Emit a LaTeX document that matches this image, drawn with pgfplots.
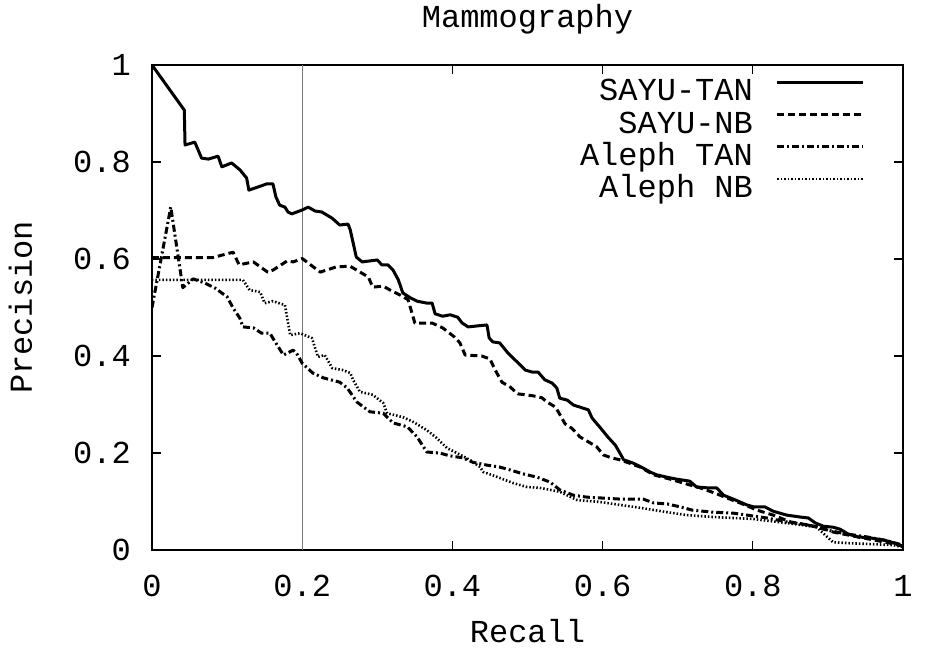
\documentclass[border=0pt]{standalone}
\usepackage{fontspec}
\setmainfont{Liberation Mono}
\usepackage{pgfplots}
\pgfplotsset{compat=1.18}
\definecolor{vline}{RGB}{120,120,120}
\begin{document}
\begin{tikzpicture}[font=\fontsize{32}{38}\selectfont]
\begin{axis}[
  scale only axis,
  width=751pt, height=485pt,
  xmin=0, xmax=1, ymin=0, ymax=1,
  xtick={0,0.2,0.4,0.6,0.8,1},
  ytick={0,0.2,0.4,0.6,0.8,1},
  /pgf/number format/assume math mode=true,
  tick align=inside,
  major tick length=9pt,
  tick style={line width=1.3pt, black},
  axis line style={line width=1.8pt},
  xticklabel style={anchor=north, inner sep=0pt, yshift=-25pt},
  yticklabel style={anchor=east, inner sep=0pt, xshift=-21pt},
  title={Mammography},
  every axis title shift=0pt,
  title style={at={(axis description cs:0.5,1.0763)}, anchor=base, inner sep=0pt},
  xlabel={Recall},
  xlabel style={at={(axis description cs:0.5,-0.19)}, anchor=base, inner sep=0pt},
  ylabel={Precision},
  ylabel style={at={(axis description cs:-0.1598,0.5)}, anchor=base, inner sep=0pt},
  legend plot pos=right,
  legend cell align=right,
  legend style={draw=none, fill=none, at={(axis description cs:0.9495,0.9726)}, anchor=north east,
    inner sep=0pt, column sep=23pt, row sep=1.9pt,
    nodes={inner sep=0pt, text height=22.4pt, text depth=8pt}},
  legend image code/.code={\draw[#1] (0pt,11.5pt) -- (86pt,11.5pt);},
  every axis plot/.append style={line join=round},
]
\addplot[vline, line width=1.4pt, forget plot] coordinates {(0.2,0) (0.2,1)};

\addplot[black, line width=3pt] coordinates {
(0,1.0) (0.043,0.907) (0.044,0.835) (0.057,0.841) (0.066,0.808) (0.075,0.806) (0.088,0.812) (0.093,0.790) (0.106,0.798) (0.117,0.784) (0.126,0.767) (0.129,0.742) (0.144,0.750) (0.153,0.755) (0.161,0.755) (0.165,0.728) (0.170,0.711) (0.177,0.707) (0.181,0.697) (0.186,0.693) (0.200,0.701) (0.208,0.707) (0.217,0.699) (0.226,0.697) (0.240,0.684) (0.250,0.670) (0.261,0.672) (0.264,0.660) (0.272,0.604) (0.280,0.594) (0.290,0.596) (0.300,0.598) (0.306,0.588) (0.314,0.588) (0.321,0.577) (0.328,0.557) (0.334,0.530) (0.344,0.520) (0.353,0.513) (0.366,0.509) (0.373,0.509) (0.377,0.487) (0.387,0.482) (0.397,0.485) (0.407,0.480) (0.413,0.468) (0.421,0.460) (0.433,0.462) (0.446,0.464) (0.449,0.437) (0.454,0.429) (0.463,0.427) (0.474,0.406) (0.486,0.388) (0.497,0.371) (0.506,0.367) (0.514,0.367) (0.523,0.351) (0.533,0.344) (0.539,0.334) (0.543,0.313) (0.553,0.309) (0.561,0.299) (0.573,0.293) (0.581,0.289) (0.586,0.272) (0.597,0.252) (0.607,0.233) (0.617,0.216) (0.623,0.200) (0.628,0.186) (0.641,0.179) (0.654,0.169) (0.663,0.161) (0.672,0.155) (0.686,0.150) (0.699,0.146) (0.716,0.142) (0.725,0.130) (0.741,0.128) (0.752,0.128) (0.761,0.113) (0.774,0.105) (0.792,0.093) (0.801,0.089) (0.816,0.089) (0.827,0.080) (0.845,0.072) (0.863,0.068) (0.874,0.066) (0.883,0.056) (0.894,0.049) (0.907,0.047) (0.916,0.043) (0.927,0.033) (0.940,0.027) (0.956,0.025) (0.973,0.021) (0.983,0.017) (0.996,0.010) (1.0,0.008)
};
\addlegendentry{SAYU-TAN}

\addplot[black, line width=3pt, dash pattern=on 7pt off 4pt] coordinates {
(0,0.603) (0.081,0.603) (0.108,0.614) (0.116,0.588) (0.135,0.594) (0.154,0.573) (0.161,0.577) (0.180,0.596) (0.188,0.594) (0.200,0.601) (0.224,0.573) (0.246,0.584) (0.264,0.585) (0.277,0.573) (0.288,0.563) (0.294,0.542) (0.308,0.544) (0.317,0.536) (0.330,0.526) (0.341,0.516) (0.350,0.468) (0.373,0.468) (0.387,0.458) (0.403,0.439) (0.410,0.427) (0.417,0.402) (0.439,0.400) (0.450,0.394) (0.457,0.371) (0.466,0.346) (0.477,0.336) (0.487,0.322) (0.507,0.318) (0.519,0.314) (0.526,0.305) (0.537,0.295) (0.541,0.285) (0.550,0.260) (0.559,0.251) (0.570,0.233) (0.581,0.223) (0.592,0.213) (0.601,0.196) (0.612,0.190) (0.623,0.186) (0.634,0.180) (0.650,0.171) (0.668,0.155) (0.690,0.146) (0.712,0.136) (0.730,0.128) (0.750,0.117) (0.766,0.107) (0.783,0.097) (0.806,0.082) (0.827,0.072) (0.850,0.058) (0.872,0.052) (0.889,0.047) (0.907,0.037) (0.933,0.029) (0.960,0.021) (0.983,0.014) (1.0,0.008)
};
\addlegendentry{SAYU-NB}

\addplot[black, line width=3pt, dash pattern=on 7pt off 3pt on 2pt off 3pt] coordinates {
(0,0.500) (0.025,0.707) (0.041,0.541) (0.055,0.559) (0.071,0.550) (0.084,0.540) (0.100,0.522) (0.108,0.499) (0.117,0.478) (0.121,0.460) (0.135,0.458) (0.146,0.447) (0.157,0.447) (0.164,0.429) (0.175,0.402) (0.188,0.412) (0.194,0.402) (0.200,0.385) (0.214,0.365) (0.228,0.355) (0.250,0.346) (0.260,0.334) (0.273,0.305) (0.290,0.285) (0.308,0.282) (0.321,0.262) (0.340,0.254) (0.353,0.233) (0.366,0.202) (0.383,0.200) (0.397,0.194) (0.414,0.190) (0.427,0.181) (0.446,0.175) (0.463,0.171) (0.477,0.165) (0.494,0.157) (0.513,0.150) (0.530,0.140) (0.543,0.124) (0.561,0.113) (0.579,0.109) (0.601,0.107) (0.623,0.105) (0.654,0.105) (0.668,0.097) (0.686,0.095) (0.703,0.089) (0.720,0.082) (0.747,0.078) (0.774,0.076) (0.792,0.072) (0.819,0.066) (0.845,0.058) (0.872,0.052) (0.885,0.047) (0.899,0.041) (0.925,0.033) (0.952,0.027) (0.979,0.019) (1.0,0.010)
};
\addlegendentry{Aleph TAN}

\addplot[black, line width=2.6pt, dash pattern=on 1.5pt off 2pt] coordinates {
(0,0.557) (0.121,0.557) (0.130,0.536) (0.144,0.532) (0.150,0.509) (0.161,0.513) (0.177,0.505) (0.184,0.443) (0.197,0.447) (0.213,0.437) (0.221,0.398) (0.230,0.402) (0.240,0.375) (0.254,0.371) (0.264,0.365) (0.268,0.350) (0.277,0.326) (0.294,0.320) (0.308,0.303) (0.313,0.282) (0.334,0.274) (0.348,0.264) (0.366,0.247) (0.379,0.231) (0.393,0.210) (0.406,0.200) (0.423,0.186) (0.437,0.171) (0.441,0.161) (0.459,0.151) (0.481,0.138) (0.499,0.130) (0.517,0.128) (0.543,0.120) (0.566,0.103) (0.597,0.099) (0.623,0.093) (0.650,0.087) (0.686,0.078) (0.712,0.072) (0.747,0.068) (0.774,0.066) (0.800,0.064) (0.832,0.058) (0.863,0.052) (0.885,0.047) (0.892,0.037) (0.899,0.027) (0.907,0.016) (0.929,0.014) (0.960,0.012) (0.987,0.010) (1.0,0.006)
};
\addlegendentry{Aleph NB}
\end{axis}
\pgfresetboundingbox
\path[use as bounding box] (-152pt,-101pt) rectangle (776pt,550pt);
\end{tikzpicture}
\end{document}
